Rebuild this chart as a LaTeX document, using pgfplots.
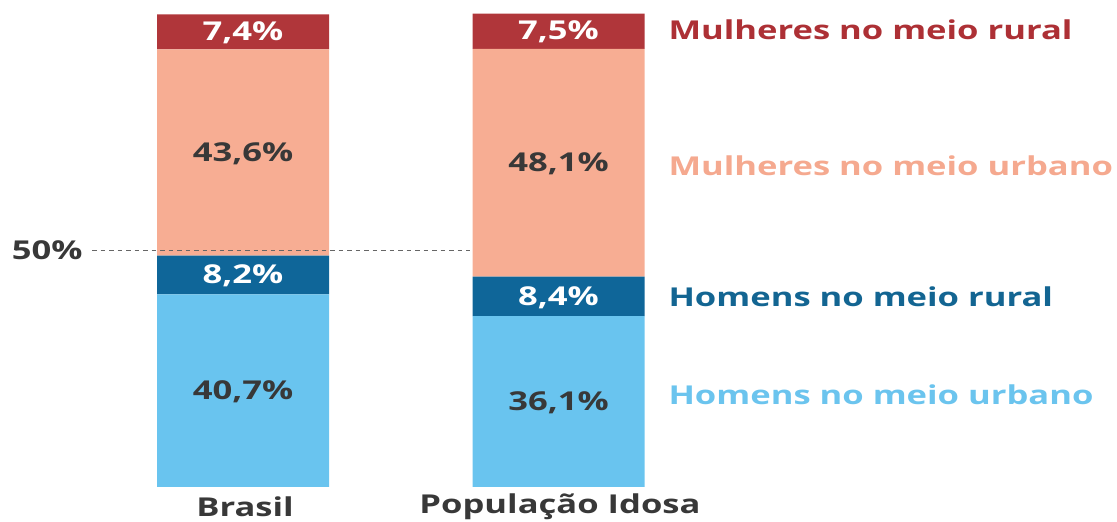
\documentclass[border=0pt]{standalone}
\usepackage{pgfplots}
\pgfplotsset{compat=1.18}
\usepackage{fontspec}
\setmainfont{Open Sans}
\newfontfamily\lab{Open Sans}[FakeStretch=1.33]
\definecolor{wrural}{HTML}{B0363A}
\definecolor{wurban}{HTML}{F7AD93}
\definecolor{mrural}{HTML}{0F6699}
\definecolor{murban}{HTML}{69C4EF}
\definecolor{lwrural}{HTML}{AD3035}
\definecolor{lwurban}{HTML}{F5A98F}
\definecolor{lmrural}{HTML}{136592}
\definecolor{lmurban}{HTML}{6BC4EE}
\definecolor{txt}{HTML}{383838}
\begin{document}
\begin{tikzpicture}
\begin{axis}[
  width=1117pt, height=522pt, scale only axis,
  xmin=0, xmax=1117, ymin=-7.40, ymax=102.96,
  hide axis, clip=false,
  ybar stacked, bar width=172,
  nodes near coords, point meta=explicit symbolic,
  every node near coord/.append style={anchor=center, yshift=-1pt, font=\lab\bfseries\fontsize{26}{30}\selectfont},
]
% 50% reference line
\addplot[sharp plot, draw=black!60, line width=1.3pt, dash pattern=on 4.5pt off 4pt, forget plot, stack plots=false, nodes near coords=] coordinates {(92,50) (470,50)};
\addplot[fill=murban, draw=none, every node near coord/.append style={text=txt}]
  coordinates {(243,40.7) [40,7\%] (558.5,36.1) [36,1\%]};
\addplot[fill=mrural, draw=none, every node near coord/.append style={text=white}]
  coordinates {(243,8.2) [8,2\%] (558.5,8.4) [8,4\%]};
\addplot[fill=wurban, draw=none, every node near coord/.append style={text=txt}]
  coordinates {(243,43.6) [43,6\%] (558.5,48.1) [48,1\%]};
\addplot[fill=wrural, draw=none, every node near coord/.append style={text=white}]
  coordinates {(243,7.4) [7,4\%] (558.5,7.5) [7,5\%]};
% legend texts
\node[anchor=west, text=lwrural, font=\lab\bfseries\fontsize{26}{30}\selectfont] at (axis cs:665,96.6) {Mulheres no meio rural};
\node[anchor=west, text=lwurban, font=\lab\bfseries\fontsize{26}{30}\selectfont] at (axis cs:665,68.0) {Mulheres no meio urbano};
\node[anchor=west, text=lmrural, font=\lab\bfseries\fontsize{26}{30}\selectfont] at (axis cs:665,40.2) {Homens no meio rural};
\node[anchor=west, text=lmurban, font=\lab\bfseries\fontsize{26}{30}\selectfont] at (axis cs:665,19.5) {Homens no meio urbano};
% 50% label
\node[anchor=east, text=txt, font=\lab\bfseries\fontsize{26}{30}\selectfont] at (axis cs:86,50) {50\%};
% category labels
\node[anchor=center, text=txt, font=\lab\bfseries\fontsize{26}{30}\selectfont] at (axis cs:245,-4.2) {Brasil};
\node[anchor=center, text=txt, font=\lab\bfseries\fontsize{26}{30}\selectfont] at (axis cs:560,-4.2) {População Idosa};
\end{axis}
\pgfresetboundingbox
\path (current axis.south west) rectangle (current axis.north east);
\end{tikzpicture}
\end{document}
